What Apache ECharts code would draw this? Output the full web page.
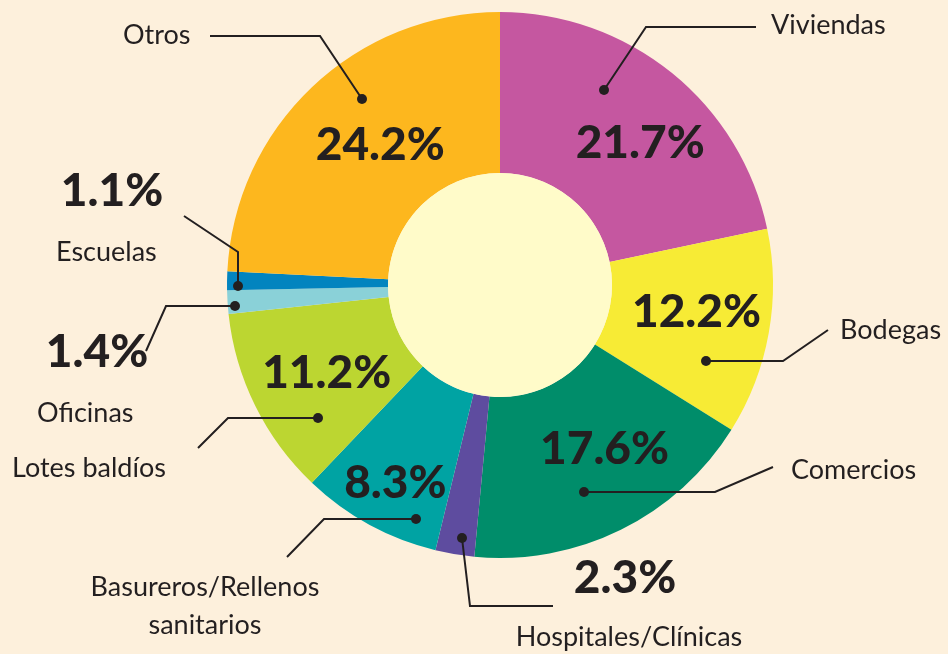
<!DOCTYPE html>
<html>
<head>
<meta charset="utf-8">
<script src="https://cdn.jsdelivr.net/npm/echarts@6/dist/echarts.min.js"></script>
<style>
  html, body { margin: 0; padding: 0; background: #fdf0dc; }
  #chart { width: 948px; height: 654px; }
</style>
</head>
<body>
<div id="chart"></div>
<script>
// Land use shares (%), clockwise from 12 o'clock
const categories = [
  'Viviendas', 'Bodegas', 'Comercios', 'Hospitales/Clínicas',
  'Basureros/Rellenos\nsanitarios', 'Lotes baldíos', 'Oficinas', 'Escuelas', 'Otros'
];
const shares = [21.7, 12.2, 17.6, 2.3, 8.3, 11.2, 1.4, 1.1, 24.2];

const palette = ['#c557a0', '#f7eb35', '#008d6a', '#5e4c9f', '#00a3a3',
                 '#bcd631', '#8ad1d8', '#0284bf', '#fdb71e'];
const INK = '#231f20';
const FONT = 'Lato, "Open Sans", sans-serif';

const CENTER = [500, 285];
const R_IN = 112;
const R_OUT = 273;

// small shifts for the percentage labels that sit inside their slice
const pctNudge = { 0: [17, 10], 1: [4, -7], 2: [18, -11], 4: [-11, 27], 5: [2, 2], 8: [15, 2] };
// thin slices carry their percentage outside the ring
const pctOutside = { 3: [625, 578], 6: [97, 352], 7: [112, 191] };

// name labels: text anchor and leader polyline (dot -> elbow -> end)
const nameLayout = [
  { x: 771, y: 25,  align: 'left',   line: [[604, 90],  [646, 27],  [756, 27]] },
  { x: 840, y: 330, align: 'left',   line: [[706, 361], [783, 361], [828, 330]] },
  { x: 791, y: 470, align: 'left',   line: [[584, 492], [715, 492], [773, 467]] },
  { x: 629, y: 637, align: 'center', line: [[462, 538], [470, 606], [553, 606]] },
  { x: 205, y: 606, align: 'center', line: [[416, 519], [324, 519], [287, 557]] },
  { x: 12,  y: 468, align: 'left',   line: [[318, 418], [228, 418], [198, 448]] },
  { x: 37,  y: 413, align: 'left',   line: [[235, 306], [166, 306], [146, 351]] },
  { x: 56,  y: 252, align: 'left',   line: [[238, 286], [238, 252], [184, 216]] },
  { x: 123, y: 35,  align: 'left',   line: [[362, 99],  [320, 36],  [210, 36]] }
];

const sliceData = categories.map((name, i) => ({
  name: name,
  value: shares[i],
  itemStyle: { color: palette[i] }
}));

const chart = echarts.init(document.getElementById('chart'), null, { renderer: 'canvas' });

chart.setOption({
  backgroundColor: '#fdf0dc',
  animation: false,
  series: [
    {
      // coloured ring with percentage labels
      type: 'pie',
      z: 2,
      center: CENTER,
      radius: [R_IN, R_OUT],
      startAngle: 90,
      clockwise: true,
      silent: true,
      avoidLabelOverlap: false,
      data: sliceData,
      label: {
        show: true,
        position: 'inside',
        formatter: p => p.value.toFixed(1) + '%',
        color: INK,
        fontFamily: FONT,
        fontWeight: 900,
        fontSize: 46
      },
      labelLine: { show: false },
      labelLayout: function (p) {
        const out = pctOutside[p.dataIndex];
        if (out) {
          return { x: out[0], y: out[1], align: 'center', verticalAlign: 'middle' };
        }
        const n = pctNudge[p.dataIndex] || [0, 0];
        return { dx: n[0], dy: n[1] };
      }
    },
    {
      // same ring, invisible, carrying the category names and leader lines
      type: 'pie',
      z: 5,
      center: CENTER,
      radius: [R_IN, R_OUT],
      startAngle: 90,
      clockwise: true,
      silent: true,
      avoidLabelOverlap: false,
      itemStyle: { color: 'rgba(0,0,0,0)' },
      data: categories.map((name, i) => ({ name: name, value: shares[i] })),
      label: {
        show: true,
        position: 'outside',
        formatter: '{b}',
        color: INK,
        fontFamily: FONT,
        fontSize: 27,
        lineHeight: 38
      },
      labelLine: {
        show: true,
        length: 10,
        length2: 10,
        lineStyle: { color: INK, width: 2 }
      },
      labelLayout: function (p) {
        const n = nameLayout[p.dataIndex];
        return {
          x: n.x,
          y: n.y,
          align: n.align,
          verticalAlign: 'middle',
          labelLinePoints: n.line
        };
      }
    },
    {
      // pale centre disc
      type: 'pie',
      z: 3,
      center: CENTER,
      radius: [0, R_IN],
      silent: true,
      label: { show: false },
      labelLine: { show: false },
      data: [{ value: 1, name: '', itemStyle: { color: '#fffbc9' } }]
    }
  ],
  graphic: nameLayout.map(n => ({
    type: 'circle',
    z: 100,
    shape: { cx: n.line[0][0], cy: n.line[0][1], r: 5 },
    style: { fill: INK }
  }))
});
</script>
</body>
</html>
